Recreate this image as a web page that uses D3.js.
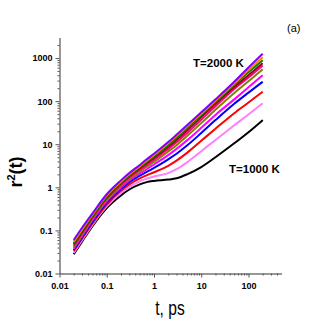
<!doctype html>
<html>
<head>
<script src="https://d3js.org/d3.v7.min.js"></script>
<style>
  body { margin: 0; background: #fff; }
  text { font-family: "Liberation Sans", Arial, sans-serif; }
</style>
</head>
<body>
<svg id="chart" width="327" height="327"></svg>
<script>
// time points, ps
var times = [0.02, 0.03, 0.05, 0.1, 0.2, 0.3, 0.5, 0.7, 1, 2, 3, 5, 10, 20, 50, 100, 200];
var temps = [1000, 1100, 1200, 1300, 1400, 1500, 1600, 1700, 1800, 1900, 2000];
var colors = ["#000000", "#ff80ff", "#ff0000", "#0000ff", "#ff00ff", "#808000",
              "#ff0080", "#a00020", "#008000", "#ff8000", "#8000ff"];
// r^2(t) for each temperature
var r2 = [
  [0.028, 0.055, 0.126, 0.33, 0.65, 0.89, 1.17, 1.32, 1.41, 1.51, 1.62, 2.0, 2.95, 5.0, 10.5, 19, 36.3],
  [0.030, 0.059, 0.135, 0.36, 0.74, 1.02, 1.38, 1.58, 1.78, 2.14, 2.63, 3.8, 6.9, 12.6, 27.5, 49, 89],
  [0.033, 0.065, 0.148, 0.40, 0.83, 1.17, 1.62, 1.9, 2.24, 3.16, 4.17, 6.3, 12, 22.9, 52.5, 93, 166],
  [0.035, 0.069, 0.158, 0.44, 0.91, 1.32, 1.86, 2.29, 2.82, 4.47, 6.0, 9.3, 18.2, 36.3, 87, 158, 282],
  [0.038, 0.074, 0.174, 0.48, 1.0, 1.45, 2.09, 2.63, 3.39, 5.6, 7.8, 12.3, 24, 47.9, 110, 209, 398],
  [0.041, 0.079, 0.186, 0.51, 1.07, 1.58, 2.34, 3.02, 3.89, 6.8, 9.5, 15.5, 30.9, 63, 155, 288, 550],
  [0.044, 0.085, 0.20, 0.55, 1.15, 1.70, 2.57, 3.31, 4.37, 7.8, 11.2, 18.2, 37.2, 75.9, 191, 355, 676],
  [0.047, 0.091, 0.209, 0.575, 1.23, 1.82, 2.75, 3.63, 4.79, 8.7, 12.6, 20.9, 42.7, 87, 214, 398, 759],
  [0.050, 0.098, 0.219, 0.60, 1.29, 1.91, 2.95, 3.89, 5.25, 9.5, 14.1, 23.4, 47.9, 95.5, 240, 468, 891],
  [0.055, 0.105, 0.234, 0.65, 1.35, 2.0, 3.09, 4.17, 5.6, 10.5, 15.5, 25.7, 51.3, 102, 257, 525, 1047],
  [0.060, 0.115, 0.25, 0.69, 1.45, 2.14, 3.31, 4.47, 6.0, 11.2, 16.6, 27.5, 55, 110, 282, 603, 1259]
];
var xTicks = [0.01, 0.1, 1, 10, 100];
var yTicks = [0.01, 0.1, 1, 10, 100, 1000];
var xDomain = [0.01, 500];
var yDomain = [0.01, 3000];

var svg = d3.select("#chart");
var x = d3.scaleLog().domain(xDomain).range([59.5, 281.5]);
var y = d3.scaleLog().domain(yDomain).range([273.5, 37.5]);

function fmt(d) { return d >= 1 ? d3.format("d")(d) : String(d); }

// minor tick values
function minors(dom) {
  var out = [];
  for (var e = Math.floor(Math.log10(dom[0])); e <= Math.ceil(Math.log10(dom[1])); e++) {
    for (var k = 2; k <= 9; k++) {
      var v = k * Math.pow(10, e);
      if (v > dom[0] && v < dom[1]) out.push(v);
    }
  }
  return out;
}

var gx = svg.append("g").attr("transform", "translate(0,273.5)");
gx.call(d3.axisBottom(x).tickValues(xTicks).tickFormat(fmt).tickSize(4).tickSizeOuter(0));
gx.append("g").call(d3.axisBottom(x).tickValues(minors(xDomain)).tickFormat("").tickSize(2).tickSizeOuter(0))
  .select(".domain").remove();

var gy = svg.append("g").attr("transform", "translate(59.5,0)");
gy.call(d3.axisLeft(y).tickValues(yTicks).tickFormat(fmt).tickSize(4).tickSizeOuter(0));
gy.append("g").call(d3.axisLeft(y).tickValues(minors(yDomain)).tickFormat("").tickSize(2).tickSizeOuter(0))
  .select(".domain").remove();

svg.selectAll(".domain").attr("stroke", "#333");
svg.selectAll(".tick line").attr("stroke", "#555");
svg.selectAll(".tick text").attr("font-size", 9).attr("font-weight", "bold")
  .attr("font-family", "Liberation Sans Narrow, Liberation Sans, Arial").attr("fill", "#000");
gx.selectAll(".tick text").attr("dy", "0.95em");

var line = d3.line()
  .x(function(d) { return x(d[0]); })
  .y(function(d) { return y(d[1]); })
  .curve(d3.curveMonotoneX);

svg.append("g").selectAll("path").data(r2).enter().append("path")
  .attr("fill", "none")
  .attr("stroke", function(d, i) { return colors[i]; })
  .attr("stroke-width", 2)
  .attr("d", function(d) { return line(d.map(function(v, j) { return [times[j], v]; })); });

svg.append("text").attr("x", 193).attr("y", 66.5).attr("font-size", 11.5).attr("font-weight", "bold")
  .text("T=" + temps[temps.length - 1] + " K");
svg.append("text").attr("x", 229).attr("y", 172.5).attr("font-size", 11.5).attr("font-weight", "bold")
  .text("T=" + temps[0] + " K");
svg.append("text").attr("x", 287).attr("y", 31.5).attr("font-size", 11).text("(a)");

// narrow axis title
svg.append("text").attr("transform", "translate(170,315) scale(0.78,1)").attr("text-anchor", "middle")
  .attr("font-size", 20)
  .text("t, ps");

var yl = svg.append("text").attr("transform", "translate(22,172) rotate(-90)")
  .attr("text-anchor", "middle").attr("font-size", 18).attr("font-weight", "bold");
yl.append("tspan").text("r");
yl.append("tspan").attr("font-size", 11).attr("dy", -7).text("2");
yl.append("tspan").attr("dy", 7).text("(t)");
</script>
</body>
</html>
